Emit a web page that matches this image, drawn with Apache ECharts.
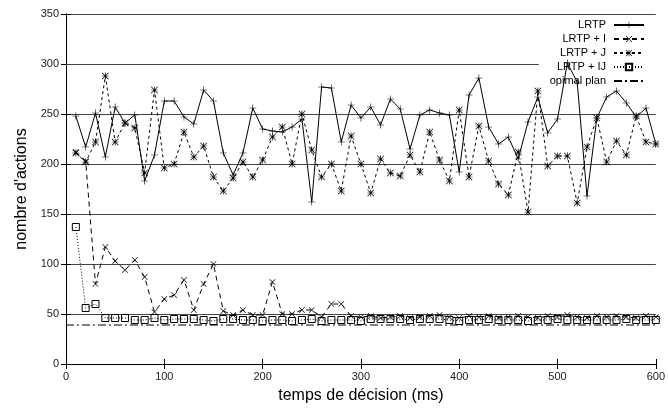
<!DOCTYPE html>
<html>
<head>
<meta charset="utf-8">
<script src="https://cdn.jsdelivr.net/npm/echarts@6/dist/echarts.min.js"></script>
<style>
  html, body { margin: 0; padding: 0; background: #fff; }
  #chart { width: 668px; height: 410px; }
</style>
</head>
<body>
<div id="chart"></div>
<script>
// temps de décision (ms)
const times = [10, 20, 30, 40, 50, 60, 70, 80, 90, 100,
  110, 120, 130, 140, 150, 160, 170, 180, 190, 200,
  210, 220, 230, 240, 250, 260, 270, 280, 290, 300,
  310, 320, 330, 340, 350, 360, 370, 380, 390, 400,
  410, 420, 430, 440, 450, 460, 470, 480, 490, 500,
  510, 520, 530, 540, 550, 560, 570, 580, 590, 600];

const lrtp = [248, 217, 251, 207, 257, 241, 249, 183, 209, 263,
  263, 247, 240, 274, 263, 211, 189, 211, 256, 235,
  233, 232, 237, 245, 162, 277, 276, 222, 259, 246,
  257, 239, 265, 255, 215, 249, 254, 251, 249, 192,
  269, 286, 237, 220, 227, 205, 242, 267, 231, 245,
  301, 282, 168, 246, 267, 273, 261, 247, 256, 220];

const lrtpI = [212, 203, 80, 117, 103, 94, 104, 87, 52, 65,
  69, 84, 54, 80, 100, 53, 49, 54, 49, 49,
  82, 50, 50, 54, 54, 47, 60, 60, 48, 47,
  48, 46, 47, 48, 46, 47, 48, 49, 47, 46,
  48, 47, 48, 46, 47, 48, 47, 46, 48, 47,
  49, 47, 46, 48, 47, 48, 47, 46, 48, 47];

const lrtpJ = [211, 202, 222, 288, 222, 241, 236, 191, 274, 196,
  200, 232, 207, 218, 187, 173, 186, 202, 187, 204,
  227, 237, 200, 250, 214, 187, 200, 173, 228, 200,
  171, 205, 191, 188, 209, 192, 232, 204, 183, 254,
  187, 238, 203, 180, 169, 212, 152, 273, 198, 208,
  208, 161, 217, 246, 202, 223, 209, 248, 222, 220];

const lrtpIJ = [137, 56, 60, 46, 46, 46, 44, 44, 46, 44,
  45, 45, 45, 44, 43, 45, 45, 44, 44, 43,
  44, 44, 43, 44, 45, 43, 44, 44, 44, 43,
  45, 45, 45, 45, 44, 45, 45, 45, 44, 43,
  44, 44, 45, 44, 44, 44, 43, 44, 44, 45,
  44, 44, 44, 44, 44, 44, 45, 44, 44, 44];

const optimalX = [0, 600];
const optimalValue = 39;

const seriesNames = ["LRTP", "LRTP + I", "LRTP + J", "LRTP + IJ", "opimal plan"];
const yTicks = [0, 50, 100, 150, 200, 250, 300, 350];
const xTicks = [0, 100, 200, 300, 400, 500, 600];

// the key box hides the 300 grid line from here to the right edge
const keyLeft = 481;

const FONT = "'Liberation Sans', Arial, sans-serif";
const PLUS = "path://M0,6.4H14V7.6H0ZM6.4,0H7.6V14H6.4Z";
const CROSS = "path://M0,1L1,0L14,13L13,14ZM13,0L14,1L1,14L0,13Z";
const STAR = "path://M0,6.3H14V7.7H0ZM6.3,0H7.7V14H6.3ZM0,1L1,0L14,13L13,14ZM13,0L14,1L1,14L0,13Z";

const pairs = (ys) => times.map((t, i) => [t, ys[i]]);

const chart = echarts.init(document.getElementById("chart"), null, { renderer: "canvas" });

const axisCommon = {
  type: "value",
  axisLine: { show: true, lineStyle: { color: "#000", width: 1 } },
  axisTick: { show: true, inside: true, length: 5, lineStyle: { color: "#000" } },
};

const option = {
  animation: false,
  backgroundColor: "#fff",
  grid: { left: 66, right: 11, top: 14, bottom: 46, containLabel: false },
  legend: {
    orient: "vertical",
    right: 23,
    top: 19,
    align: "right",
    itemWidth: 30,
    itemHeight: 8,
    itemGap: 2,
    padding: 0,
    data: seriesNames.map((name, i) =>
      i === 4 ? { name, itemStyle: { opacity: 0 } } : { name }
    ),
    textStyle: { fontFamily: FONT, fontSize: 11, color: "#000", lineHeight: 12, padding: [0, 3, 0, 0] },
  },
  xAxis: [
    {
      ...axisCommon,
      min: xTicks[0],
      max: xTicks[xTicks.length - 1],
      interval: 100,
      name: "temps de décision (ms)",
      nameLocation: "middle",
      nameGap: 24,
      nameTextStyle: { fontFamily: FONT, fontSize: 16, color: "#000" },
      axisLabel: { fontFamily: FONT, fontSize: 11, color: "#222", margin: 7 },
      splitLine: { show: false },
    },
    {
      ...axisCommon,
      position: "top",
      min: xTicks[0],
      max: xTicks[xTicks.length - 1],
      interval: 100,
      axisLabel: { show: false },
      splitLine: { show: false },
    },
  ],
  yAxis: [
    {
      ...axisCommon,
      min: yTicks[0],
      max: yTicks[yTicks.length - 1],
      interval: 50,
      name: "nombre d'actions",
      nameLocation: "middle",
      nameGap: 33,
      nameTextStyle: { fontFamily: FONT, fontSize: 16, color: "#000" },
      axisLabel: { fontFamily: FONT, fontSize: 11, color: "#222", margin: 7 },
      splitLine: {
        show: true,
        lineStyle: {
          width: 1,
          color: yTicks.map((v) => (v === 300 ? "rgba(0,0,0,0)" : "#444")),
        },
      },
    },
    {
      ...axisCommon,
      position: "right",
      min: yTicks[0],
      max: yTicks[yTicks.length - 1],
      interval: 50,
      axisLabel: { show: false },
      splitLine: { show: false },
    },
  ],
  series: [
    {
      name: seriesNames[0],
      type: "line",
      data: pairs(lrtp),
      symbol: PLUS,
      symbolSize: 7,
      itemStyle: { color: "#000" },
      lineStyle: { color: "#000", width: 1, type: "solid" },
      z: 5,
    },
    {
      name: seriesNames[1],
      type: "line",
      data: pairs(lrtpI),
      symbol: CROSS,
      symbolSize: 6,
      itemStyle: { color: "#000" },
      lineStyle: { color: "#000", width: 1, type: [5, 4] },
      z: 4,
    },
    {
      name: seriesNames[2],
      type: "line",
      data: pairs(lrtpJ),
      symbol: STAR,
      symbolSize: 7,
      itemStyle: { color: "#000" },
      lineStyle: { color: "#000", width: 1, type: [3, 3] },
      z: 4,
    },
    {
      name: seriesNames[3],
      type: "line",
      data: pairs(lrtpIJ),
      symbol: "rect",
      symbolSize: 7,
      itemStyle: { color: "rgba(255,255,255,0)", borderColor: "#000", borderWidth: 1 },
      lineStyle: { color: "#000", width: 1, type: [1, 2] },
      z: 3,
    },
    {
      name: seriesNames[4],
      type: "line",
      data: optimalX.map((x) => [x, optimalValue]),
      symbol: "none",
      itemStyle: { color: "#000" },
      lineStyle: { color: "#000", width: 1, type: [8, 3, 2, 3] },
      z: 2,
      markLine: {
        silent: true,
        symbol: "none",
        label: { show: false },
        lineStyle: { color: "#444", width: 1, type: "solid" },
        data: [[{ coord: [xTicks[0], 300] }, { coord: [keyLeft, 300] }]],
      },
    },
  ],
};

chart.setOption(option);
</script>
</body>
</html>
